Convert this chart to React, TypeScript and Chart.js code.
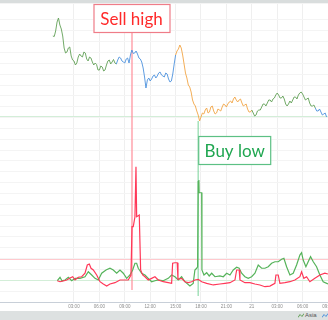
import React, { useEffect, useRef } from "react";
import { Chart, registerables } from "chart.js";

Chart.register(...registerables);

// ---------- DATA ----------
const tickHours = [3, 6, 9, 12, 15, 18, 21, 24, 27, 30, 33];
const tickLabels = ["03:00", "06:00", "09:00", "12:00", "15:00", "18:00", "21:00", "21", "03:00", "06:00", "09:00"];

const sessionNames = ["Asia", "Europe", "America", "Asia", "Europe"];
const sessionStartHours = [0, 8, 15, 24, 31.5];
const legendNames = ["Asia", "Europe", "America"];

const priceStartHour = 0.5;
const priceStepMinutes = 10;
const priceValues = [
  8534, 8533, 8544, 8562, 8570, 8556, 8548, 8534, 8510, 8500,
  8502, 8510, 8512, 8494, 8486, 8484, 8476, 8480, 8492, 8498,
  8494, 8492, 8502, 8500, 8488, 8484, 8492, 8490, 8482, 8476,
  8480, 8477, 8466, 8466, 8474, 8472, 8464, 8466, 8476, 8484,
  8486, 8478, 8482, 8487, 8480, 8478, 8486, 8492, 8490, 8484,
  8482, 8480, 8488, 8490, 8480, 8496, 8506, 8499, 8500, 8504,
  8498, 8490, 8488, 8482, 8470, 8452, 8430, 8446, 8450, 8444,
  8448, 8454, 8456, 8450, 8454, 8460, 8462, 8456, 8454, 8452,
  8460, 8458, 8448, 8442, 8444, 8458, 8478, 8496, 8504, 8508,
  8516, 8510, 8496, 8478, 8460, 8450, 8436, 8432, 8422, 8406,
  8398, 8394, 8384, 8376, 8364, 8372, 8380, 8378, 8386, 8390,
  8380, 8382, 8392, 8394, 8384, 8378, 8380, 8388, 8386, 8384,
  8392, 8398, 8396, 8392, 8398, 8402, 8404, 8400, 8408, 8412,
  8406, 8402, 8406, 8408, 8400, 8394, 8396, 8398, 8388, 8382,
  8382, 8386, 8380, 8374, 8376, 8384, 8386, 8386, 8392, 8398,
  8398, 8394, 8400, 8406, 8406, 8402, 8408, 8410, 8416, 8420,
  8416, 8410, 8410, 8414, 8408, 8398, 8394, 8398, 8404, 8400,
  8406, 8412, 8412, 8408, 8416, 8420, 8422, 8418, 8412, 8406,
  8408, 8410, 8400, 8394, 8394, 8396, 8390, 8384, 8384, 8388,
  8382, 8376, 8378, 8380, 8372,
];

const redHours = [
  1.03, 1.35, 1.74, 2.14, 2.53, 2.85, 3.12, 3.51, 3.91, 4.3,
  4.57, 4.81, 5.01, 5.28, 5.68, 6.07, 6.46, 6.86, 7.25, 7.84,
  8.43, 9.02, 9.41, 9.73, 9.85, 10.0, 10.2, 10.32, 10.4, 10.71,
  10.79, 10.87, 11.11, 11.38, 11.77, 12.17, 12.56, 12.95, 13.54, 14.13,
  14.53, 14.65, 14.92, 15.19, 15.28, 15.71, 16.1, 16.49, 16.89, 17.28,
  17.67, 18.08, 18.67, 19.45, 20.24, 20.83, 21.42, 22.01, 22.21, 22.51,
  22.6, 23.19, 23.78, 24.37, 24.96, 25.55, 26.14, 26.73, 26.85, 27.12,
  27.32, 27.91, 28.5, 29.09, 29.68, 29.88, 30.15, 30.47, 30.86, 31.45,
  32.04, 32.63, 32.99,
];
const redValues = [
  1.96, 1.87, 1.94, 2.03, 2.21, 2.33, 2.03, 2.28, 2.33, 2.65,
  3.41, 3.5, 3.11, 2.95, 2.49, 1.87, 1.66, 1.47, 1.66, 1.78,
  2.03, 2.03, 2.03, 2.49, 6.94, 6.94, 7.86, 12.47, 7.86, 8.02,
  8.02, 2.95, 2.49, 2.33, 2.03, 2.18, 2.33, 2.03, 1.87, 1.78,
  1.72, 3.57, 3.62, 3.62, 2.09, 2.18, 1.87, 1.78, 1.87, 2.03,
  2.09, 1.87, 1.72, 1.57, 1.66, 1.72, 1.78, 2.03, 2.95, 2.95,
  2.03, 1.78, 1.78, 1.66, 1.57, 1.41, 1.47, 1.72, 2.49, 2.49,
  1.72, 1.78, 1.87, 2.03, 2.33, 2.79, 2.18, 2.33, 1.87, 2.18,
  2.49, 2.65, 2.58,
];

const greenHours = [
  1.03, 1.35, 1.58, 1.94, 2.33, 2.73, 3.12, 3.71, 4.3, 4.69,
  5.09, 5.48, 5.87, 6.27, 6.78, 7.25, 7.64, 8.04, 8.43, 8.82,
  9.22, 9.61, 9.93, 10.2, 10.4, 10.59, 10.99, 11.38, 11.77, 12.17,
  12.56, 12.95, 13.54, 14.13, 14.53, 14.92, 15.31, 15.71, 16.1, 16.69,
  17.08, 17.28, 17.49, 17.6, 17.67, 17.75, 17.78, 18.08, 18.11, 18.35,
  18.67, 18.97, 19.26, 19.65, 20.24, 20.63, 21.03, 21.42, 21.81, 22.21,
  22.51, 22.8, 23.19, 23.58, 23.98, 24.37, 24.76, 25.16, 25.55, 25.94,
  26.34, 26.73, 27.12, 27.52, 27.79, 28.11, 28.5, 28.89, 29.29, 29.68,
  29.88, 30.07, 30.39, 30.66, 30.94, 31.26, 31.65, 32.04, 32.43, 32.99,
];
const greenValues = [
  1.96, 2.28, 1.96, 2.03, 2.28, 1.96, 2.18, 2.18, 2.33, 2.79,
  2.49, 2.18, 2.03, 2.65, 2.95, 3.11, 2.95, 2.65, 2.95, 2.65,
  2.18, 2.49, 2.95, 3.57, 3.57, 3.11, 2.65, 2.49, 2.18, 1.87,
  1.96, 2.03, 1.96, 2.18, 2.49, 2.33, 2.03, 2.33, 1.87, 1.47,
  1.72, 2.95, 3.11, 3.25, 11.09, 11.24, 10.07, 10.07, 2.95, 2.49,
  2.7, 2.4, 2.65, 2.33, 2.4, 2.33, 2.65, 2.49, 2.95, 3.2,
  3.11, 2.65, 2.33, 2.18, 2.33, 2.65, 3.41, 3.11, 3.11, 3.25,
  3.57, 3.71, 3.71, 3.94, 4.03, 3.25, 2.49, 2.65, 3.41, 4.33,
  4.54, 3.87, 3.25, 3.71, 4.18, 3.71, 3.25, 2.49, 1.87, 1.66,
];

const sellHour = 9.85;
const sellLabel = "Sell high";
const buyHour = 17.67;
const buyPrice = 8364;
const buyLabel = "Buy low";
const priceRefLevel = 8374;
const indicatorUpper = 4;
const indicatorLower = 2;

// ---------- STYLE ----------
const sessionColors: Record<string, string> = {
  Asia: "#62a057",
  Europe: "#4d92de",
  America: "#f2a545",
};

function sessionAt(h: number): string {
  let name = sessionNames[0];
  for (let i = 0; i < sessionStartHours.length; i++) {
    if (h >= sessionStartHours[i] - 1e-6) name = sessionNames[i];
  }
  return name;
}

const annotationPlugin = {
  id: "annotations",
  beforeDatasetsDraw(chart: any) {
    const { ctx, chartArea, scales } = chart;
    const x = scales.x, yP = scales.yP, yI = scales.yI;
    ctx.save();
    const hline = (y: number, color: string) => {
      ctx.strokeStyle = color;
      ctx.lineWidth = 1;
      ctx.beginPath();
      ctx.moveTo(chartArea.left, Math.round(y) + 0.5);
      ctx.lineTo(chartArea.right, Math.round(y) + 0.5);
      ctx.stroke();
    };
    hline(yP.getPixelForValue(priceRefLevel), "#d3eed8");
    hline(yI.getPixelForValue(indicatorUpper), "#ffc9ce");
    hline(yI.getPixelForValue(indicatorLower), "#d3eed8");

    const sx = x.getPixelForValue(sellHour);
    ctx.strokeStyle = "rgba(255,140,152,0.6)";
    ctx.lineWidth = 2;
    ctx.beginPath();
    ctx.moveTo(sx, 33);
    ctx.lineTo(sx, yI.getPixelForValue(1.1));
    ctx.stroke();

    const bx = x.getPixelForValue(buyHour);
    ctx.strokeStyle = "rgba(90,200,130,0.55)";
    ctx.lineWidth = 1.5;
    ctx.beginPath();
    ctx.moveTo(bx, yP.getPixelForValue(buyPrice));
    ctx.lineTo(bx, yI.getPixelForValue(0.55));
    ctx.stroke();
    ctx.restore();
  },
  afterDatasetsDraw(chart: any) {
    const { ctx, scales } = chart;
    const x = scales.x;
    ctx.save();
    const sx = x.getPixelForValue(sellHour);
    const sw = 77, sh = 29;
    ctx.fillStyle = "#ffffff";
    ctx.fillRect(sx - sw / 2, 4, sw, sh);
    ctx.strokeStyle = "#ef7c88";
    ctx.lineWidth = 1.2;
    ctx.strokeRect(sx - sw / 2 + 0.5, 4.5, sw - 1, sh - 1);
    ctx.fillStyle = "#ff2a2a";
    ctx.font = "17px Lato";
    ctx.textAlign = "center";
    ctx.textBaseline = "alphabetic";
    ctx.fillText(sellLabel, sx - 0.5, 25);

    const bx = x.getPixelForValue(buyHour);
    const bw = 73, bh = 29;
    ctx.fillStyle = "#ffffff";
    ctx.fillRect(bx, 136, bw, bh);
    ctx.strokeStyle = "#5cc084";
    ctx.strokeRect(bx + 0.5, 136.5, bw - 1, bh - 1);
    ctx.fillStyle = "#1fa650";
    ctx.fillText(buyLabel, bx + bw / 2, 157);
    ctx.restore();
  },
  afterDraw(chart: any) {
    const { ctx, scales, chartArea } = chart;
    const x = scales.x;
    ctx.save();
    ctx.font = '4.5px "Liberation Sans"';
    ctx.fillStyle = "#8c8c8c";
    ctx.textAlign = "center";
    ctx.textBaseline = "middle";
    tickHours.forEach((h, i) => {
      ctx.fillText(tickLabels[i], x.getPixelForValue(h), chartArea.bottom + 4.5);
    });
    ctx.restore();
  },
};

export default function App() {
  const ref = useRef<HTMLCanvasElement | null>(null);

  useEffect(() => {
    if (!ref.current) return;
    const stepH = priceStepMinutes / 60;
    const priceData = priceValues.map((v, i) => ({ x: priceStartHour + i * stepH, y: v }));
    const redData = redHours.map((h, i) => ({ x: h, y: redValues[i] }));
    const greenData = greenHours.map((h, i) => ({ x: h, y: greenValues[i] }));

    const chart = new Chart(ref.current, {
      type: "line",
      data: {
        datasets: [
          {
            label: "Price",
            data: priceData,
            yAxisID: "yP",
            borderWidth: 0.9,
            pointRadius: 0,
            borderColor: sessionColors.Asia,
            segment: {
              borderColor: (c: any) => sessionColors[sessionAt(c.p0.parsed.x)],
            },
          },
          {
            label: "Sell",
            data: redData,
            yAxisID: "yI",
            borderWidth: 1.2,
            pointRadius: 0,
            borderColor: "#ff3858",
          },
          {
            label: "Buy",
            data: greenData,
            yAxisID: "yI",
            borderWidth: 1.2,
            pointRadius: 0,
            borderColor: "#55b35a",
          },
        ],
      },
      options: {
        responsive: false,
        animation: false,
        devicePixelRatio: 1,
        layout: { padding: { top: 3, left: 0, right: 0, bottom: 0 } },
        plugins: { legend: { display: false }, tooltip: { enabled: false } },
        elements: { line: { tension: 0 }, point: { radius: 0 } },
        scales: {
          x: {
            type: "linear",
            min: -5.74,
            max: 33.0,
            afterBuildTicks: (axis: any) => {
              axis.ticks = tickHours.map((v) => ({ value: v }));
            },
            ticks: { display: false },
            grid: { color: "#efefef", drawTicks: false },
            border: { display: true, color: "#c8cfd8" },
            afterFit: (s: any) => {
              s.height = 9;
            },
          },
          yI: {
            position: "left",
            min: 0,
            max: 27.56,
            ticks: { display: false, stepSize: 1 },
            grid: { color: "#f4f4f4", drawTicks: false },
            border: { display: false },
            afterFit: (s: any) => {
              s.width = 0;
            },
          },
          yP: {
            position: "right",
            display: false,
            min: 8002,
            max: 8600,
          },
        },
      } as any,
      plugins: [annotationPlugin],
    });
    return () => chart.destroy();
  }, []);

  return (
    <div style={{ position: "fixed", left: 0, top: 0, width: 328, height: 320, background: "#ffffff", overflow: "hidden" }}>
      <canvas ref={ref} width={328} height={311} style={{ position: "absolute", left: 0, top: 0, width: 328, height: 311 }} />
      <div style={{ position: "absolute", left: 0, top: 0, width: 328, height: 3, background: "#d9dddd" }} />
      <div style={{ position: "absolute", left: 0, top: 311, width: 328, height: 9, background: "#dde1e1" }}>
        <div style={{ position: "absolute", left: 298, top: 1, display: "flex", alignItems: "center", whiteSpace: "nowrap", fontFamily: '"Liberation Sans", Arial, sans-serif', fontSize: 6, color: "#555" }}>
          {legendNames.map((n) => (
            <span key={n} style={{ display: "inline-flex", alignItems: "center", marginRight: 5 }}>
              <svg width="6" height="5" style={{ marginRight: 1 }}>
                <polyline points="0,4.5 2,1.5 4,3.5 6,0.5" fill="none" stroke={sessionColors[n]} strokeWidth="1" />
              </svg>
              {n}
            </span>
          ))}
        </div>
      </div>
    </div>
  );
}
